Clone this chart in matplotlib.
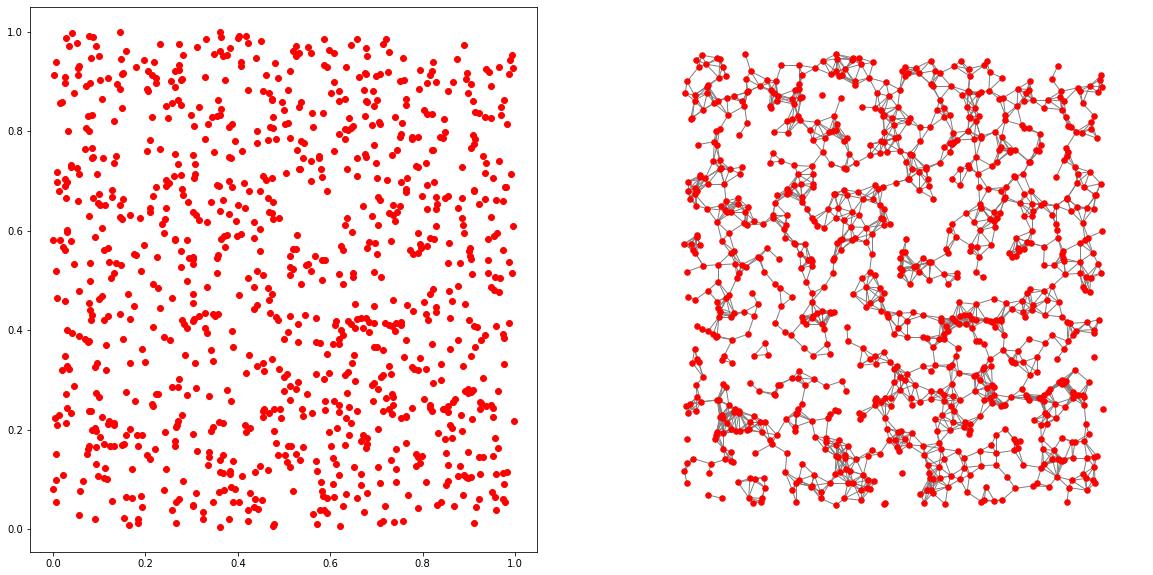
#Точки случайного геометрического графа: слева просто точки, справа с рёбрами
import numpy as np
import matplotlib
matplotlib.use("Agg")
import matplotlib.pyplot as plt
from matplotlib.collections import LineCollection

#Значения, по областям.
top_left = [(.042,.997),(.029,.987),(.079,.991),(.086,.989),(.146,.999),(.053,.977),(.035,.971),(.092,.971),(.159,.961),(.232,.975),(.273,.975),(.332,.985),(.362,.999),(.364,.989),(.400,.987),(.403,.991),(.417,.991),(.421,.977),(.451,.981),(.312,.969),(.384,.967),(.282,.953),(.349,.955),(.362,.961),(.369,.951),(.377,.953),(.100,.951),(.083,.947),(.148,.945),(.007,.939),(.198,.943),(.219,.939),(.406,.939),(.408,.931),(.440,.947),(.481,.937),(.057,.931),(.055,.927),(.180,.929),(.273,.933),(.265,.921),(.273,.923),(.206,.921),(.215,.913),(.224,.907),(.222,.897),(.003,.913),(.025,.909),(.025,.897),(.055,.913),(.152,.917),(.150,.915),(.460,.913),(.488,.907),(.514,.921),(.328,.909),(.373,.903),(.256,.901),(.280,.905),(.276,.903),(.263,.889),(.102,.903),(.120,.907),(.081,.897),(.072,.891),(.139,.895),(.144,.885),(.204,.885),(.206,.881),(.046,.877),(.423,.883),(.455,.881),(.468,.877),(.509,.883),(.358,.863),(.473,.863),(.475,.865),(.496,.859),(.105,.865),(.020,.859),(.016,.857),(.271,.863),(.258,.857),(.245,.851),(.276,.853),(.317,.849),(.364,.845),(.150,.847),(.499,.843),(.085,.834),(.076,.830),(.215,.828),(.248,.826),(.299,.832),(.345,.828),(.354,.830),(.362,.832),(.477,.828),(.131,.820),(.336,.814),(.306,.810),(.388,.814),(.380,.808),(.470,.808),(.477,.806),(.503,.814),(.509,.816),(.072,.806),(.079,.800),(.033,.800),(.442,.800),(.211,.782),(.330,.784),(.393,.780),(.466,.782),(.483,.784),(.514,.786),(.442,.776),(.070,.764),(.085,.766),(.204,.760),(.232,.764),(.349,.758),(.410,.760),(.263,.754),(.304,.752),(.382,.748),(.386,.746),(.087,.748),(.085,.746),(.109,.746),(.137,.750),(.133,.736),(.271,.734),(.308,.734),(.038,.732),(.038,.728),(.051,.726),(.009,.718),(.057,.714),(.096,.714),(.261,.710),(.278,.712),(.308,.714),(.306,.706),(.455,.710),(.462,.702),(.473,.706),(.505,.716),(.027,.704),(.031,.698),(.009,.698),(.027,.690),(.245,.702),(.250,.696),(.245,.690),(.222,.688),(.280,.684),(.356,.692),(.360,.690),(.382,.700),(.388,.688),(.414,.696),(.128,.682),(.014,.681),(.425,.681),(.449,.681)]

top_right = [(.587,.985),(.659,.985),(.721,.985),(.715,.975),(.644,.973),(.525,.971),(.553,.969),(.678,.967),(.520,.961),(.533,.957),(.527,.951),(.559,.957),(.598,.963),(.609,.957),(.728,.959),(.680,.951),(.890,.973),(.758,.947),(.875,.945),(.823,.939),(.994,.953),(.990,.943),(.587,.933),(.592,.929),(.635,.929),(.795,.923),(.821,.921),(.815,.913),(.966,.929),(.996,.927),(.937,.925),(.944,.919),(.986,.915),(.897,.917),(.895,.905),(.905,.895),(.726,.919),(.708,.915),(.700,.911),(.678,.915),(.676,.917),(.663,.909),(.609,.899),(.750,.901),(.760,.903),(.810,.897),(.830,.899),(.866,.899),(.949,.891),(.793,.885),(.856,.881),(.899,.877),(.674,.883),(.693,.881),(.618,.881),(.602,.877),(.765,.865),(.633,.865),(.620,.861),(.678,.861),(.680,.859),(.702,.863),(.977,.863),(.910,.861),(.537,.859),(.533,.849),(.695,.851),(.765,.853),(.970,.849),(.804,.843),(.810,.836),(.821,.836),(.914,.840),(.921,.838),(.561,.838),(.585,.838),(.970,.834),(.934,.828),(.947,.826),(.676,.830),(.741,.828),(.641,.826),(.847,.824),(.756,.816),(.706,.818),(.708,.814),(.691,.812),(.983,.814),(.563,.808),(.650,.810),(.644,.806),(.633,.804),(.639,.802),(.620,.794),(.633,.784),(.849,.798),(.754,.794),(.750,.788),(.776,.788),(.776,.784),(.789,.788),(.838,.788),(.845,.786),(.910,.792),(.914,.784),(.912,.774),(.905,.766),(.537,.780),(.544,.776),(.529,.762),(.695,.772),(.745,.762),(.734,.752),(.821,.762),(.823,.762),(.609,.760),(.576,.750),(.576,.746),(.542,.746),(.559,.740),(.657,.746),(.676,.754),(.678,.748),(.931,.750),(.938,.736),(.966,.740),(.700,.736),(.808,.736),(.786,.730),(.789,.728),(.886,.728),(.533,.724),(.535,.724),(.581,.724),(.637,.724),(.936,.716),(.992,.714),(.657,.710),(.583,.708),(.702,.706),(.767,.706),(.953,.706),(.559,.700),(.724,.702),(.754,.698),(.825,.698),(.810,.692),(.765,.684),(.594,.681),(.912,.682),(.979,.688),(.981,.688)]

mid_left = [(.100,.675),(.128,.669),(.087,.665),(.029,.665),(.217,.671),(.282,.673),(.152,.663),(.055,.659),(.098,.655),(.102,.651),(.113,.651),(.146,.651),(.293,.657),(.343,.657),(.367,.661),(.466,.667),(.477,.657),(.401,.651),(.416,.645),(.245,.645),(.211,.645),(.211,.637),(.362,.639),(.380,.633),(.304,.637),(.310,.631),(.317,.621),(.334,.617),(.079,.629),(.167,.631),(.144,.627),(.150,.623),(.189,.625),(.243,.623),(.237,.613),(.397,.619),(.434,.617),(.468,.637),(.473,.635),(.477,.623),(.490,.625),(.107,.605),(.447,.603),(.031,.601),(.031,.597),(.241,.595),(.377,.591),(.371,.589),(.364,.583),(.408,.593),(.399,.589),(.090,.587),(.434,.585),(.001,.581),(.016,.581),(.038,.579),(.263,.583),(.265,.581),(.289,.581),(.198,.571),(.373,.567),(.022,.567),(.027,.561),(.120,.565),(.111,.561),(.276,.559),(.447,.559),(.176,.553),(.180,.551),(.226,.547),(.358,.551),(.354,.545),(.295,.545),(.302,.547),(.304,.543),(.514,.549),(.122,.537),(.137,.535),(.148,.531),(.081,.535),(.046,.533),(.304,.533),(.278,.528),(.514,.528),(.007,.520),(.191,.520),(.131,.516),(.126,.506),(.442,.520),(.455,.512),(.354,.516),(.514,.512),(.423,.506),(.081,.498),(.291,.498),(.217,.492),(.228,.484),(.334,.486),(.434,.486),(.466,.484),(.057,.478),(.163,.472),(.304,.472),(.403,.470),(.475,.472),(.009,.464),(.027,.458),(.107,.468),(.100,.462),(.258,.464),(.468,.460),(.079,.454),(.304,.454),(.176,.448),(.232,.444),(.442,.450),(.434,.442),(.081,.440),(.085,.430),(.144,.432),(.120,.428),(.111,.420),(.083,.420),(.167,.422),(.328,.434),(.317,.428),(.306,.422),(.304,.418),(.347,.432),(.351,.428),(.358,.432),(.470,.434),(.483,.426),(.486,.420),(.512,.428),(.280,.420),(.284,.412),(.291,.404),(.217,.406),(.031,.400),(.042,.394),(.057,.388),(.070,.382),(.076,.376),(.079,.378),(.328,.404),(.334,.394),(.388,.398),(.509,.396),(.241,.386),(.254,.380),(.152,.382),(.499,.382),(.115,.370),(.390,.366),(.193,.362),(.341,.360),(.025,.349),(.286,.351),(.425,.351),(.475,.343)]

mid_right = [(.763,.679),(.704,.669),(.708,.661),(.799,.671),(.828,.669),(.849,.667),(.856,.671),(.886,.665),(.912,.681),(.936,.663),(.959,.661),(.975,.659),(.921,.653),(.672,.649),(.737,.651),(.752,.649),(.832,.653),(.877,.645),(.810,.643),(.828,.643),(.728,.635),(.745,.637),(.737,.631),(.691,.629),(.637,.625),(.741,.619),(.886,.625),(.949,.627),(.631,.611),(.704,.611),(.828,.609),(.888,.611),(.996,.609),(.648,.597),(.529,.591),(.791,.595),(.890,.595),(.962,.595),(.955,.589),(.942,.583),(.817,.585),(.825,.583),(.858,.575),(.732,.579),(.683,.577),(.698,.575),(.680,.565),(.624,.569),(.628,.561),(.795,.573),(.810,.569),(.797,.565),(.773,.561),(.780,.553),(.791,.555),(.520,.563),(.525,.563),(.568,.549),(.702,.553),(.903,.565),(.901,.559),(.903,.549),(.905,.543),(.973,.561),(.583,.541),(.589,.541),(.856,.535),(.882,.535),(.942,.541),(.986,.537),(.553,.533),(.548,.531),(.520,.524),(.559,.520),(.618,.514),(.650,.516),(.650,.508),(.695,.518),(.711,.508),(.908,.514),(.942,.516),(.957,.508),(.968,.506),(.994,.516),(.583,.502),(.537,.492),(.628,.492),(.877,.488),(.823,.482),(.817,.472),(.858,.478),(.949,.486),(.955,.480),(.966,.476),(.737,.460),(.864,.458),(.804,.456),(.654,.452),(.695,.448),(.767,.450),(.892,.452),(.830,.446),(.780,.438),(.828,.436),(.808,.432),(.812,.420),(.546,.430),(.570,.424),(.860,.424),(.901,.420),(.988,.414),(.959,.408),(.912,.408),(.918,.406),(.531,.412),(.613,.418),(.611,.410),(.639,.418),(.646,.412),(.654,.404),(.657,.422),(.667,.424),(.678,.424),(.685,.416),(.695,.414),(.672,.404),(.685,.396),(.719,.414),(.728,.410),(.743,.414),(.754,.416),(.754,.410),(.734,.408),(.741,.398),(.624,.400),(.628,.390),(.620,.382),(.607,.372),(.620,.372),(.531,.376),(.570,.376),(.579,.374),(.975,.392),(.934,.390),(.977,.384),(.927,.380),(.877,.380),(.763,.380),(.821,.372),(.914,.366),(.695,.366),(.702,.366),(.715,.360),(.592,.353),(.652,.351),(.860,.362),(.905,.349),(.760,.347),(.795,.345)]

low_left = [(.096,.335),(.090,.325),(.167,.335),(.200,.337),(.115,.319),(.031,.327),(.020,.319),(.035,.321),(.308,.335),(.347,.339),(.442,.327),(.455,.333),(.457,.317),(.418,.313),(.490,.321),(.501,.305),(.507,.311),(.273,.301),(.046,.287),(.258,.285),(.271,.285),(.310,.283),(.514,.287),(.029,.271),(.094,.273),(.100,.265),(.157,.275),(.178,.257),(.224,.271),(.228,.271),(.289,.269),(.338,.267),(.377,.279),(.386,.257),(.501,.277),(.514,.259),(.215,.251),(.217,.247),(.031,.243),(.040,.233),(.079,.237),(.083,.237),(.457,.241),(.455,.237),(.468,.233),(.479,.241),(.492,.241),(.014,.229),(.005,.223),(.107,.225),(.280,.229),(.455,.225),(.494,.223),(.029,.213),(.009,.209),(.271,.217),(.269,.209),(.267,.205),(.122,.217),(.120,.211),(.131,.213),(.131,.209),(.360,.215),(.367,.213),(.347,.205),(.343,.197),(.416,.209),(.427,.203),(.418,.195),(.090,.203),(.085,.199),(.094,.197),(.167,.201),(.243,.195),(.479,.197),(.102,.186),(.157,.189),(.182,.189),(.193,.189),(.304,.191),(.265,.178),(.483,.174),(.111,.172),(.124,.168),(.133,.168),(.150,.170),(.154,.172),(.185,.166),(.265,.168),(.079,.166),(.076,.160),(.094,.164),(.509,.166),(.221,.160),(.312,.156),(.007,.150),(.074,.150),(.204,.148),(.338,.154),(.338,.144),(.369,.148),(.362,.138),(.488,.148),(.503,.148),(.209,.140),(.390,.136),(.507,.134),(.094,.130),(.336,.128),(.113,.122),(.170,.120),(.245,.120),(.447,.126),(.438,.114),(.466,.118),(.512,.124),(.022,.108),(.362,.114),(.367,.112),(.384,.116),(.384,.110),(.410,.106),(.007,.098),(.098,.106),(.111,.102),(.117,.100),(.064,.096),(.282,.096),(.001,.080),(.059,.076),(.241,.078),(.360,.074),(.371,.078),(.386,.084),(.395,.080),(.427,.072),(.310,.072),(.157,.064),(.170,.062),(.191,.066),(.273,.060),(.267,.054),(.438,.060),(.453,.058),(.007,.054),(.128,.056),(.347,.054),(.390,.054),(.403,.054),(.193,.044),(.304,.048),(.302,.046),(.436,.044),(.444,.040),(.258,.038),(.421,.038),(.325,.034),(.057,.028),(.090,.020),(.154,.022),(.325,.020),(.185,.020),(.183,.013),(.165,.009),(.267,.013),(.382,.020),(.421,.016),(.362,.005),(.479,.011),(.477,.007)]

low_right = [(.648,.333),(.728,.327),(.778,.325),(.782,.321),(.789,.319),(.808,.321),(.840,.331),(.888,.327),(.977,.331),(.570,.311),(.598,.313),(.639,.315),(.631,.309),(.587,.301),(.715,.309),(.711,.305),(.732,.311),(.654,.297),(.695,.293),(.691,.289),(.704,.281),(.823,.293),(.840,.299),(.931,.303),(.531,.295),(.527,.281),(.550,.271),(.637,.273),(.892,.277),(.899,.281),(.899,.273),(.905,.275),(.910,.279),(.964,.277),(.734,.271),(.737,.265),(.721,.263),(.804,.261),(.693,.257),(.589,.257),(.609,.257),(.618,.249),(.871,.261),(.866,.255),(.815,.249),(.856,.247),(.845,.241),(.849,.241),(.856,.235),(.925,.255),(.927,.253),(.938,.247),(.949,.249),(.953,.243),(.925,.241),(.737,.249),(.728,.241),(.715,.237),(.734,.231),(.778,.243),(.540,.241),(.589,.239),(.618,.235),(.641,.245),(.657,.237),(.817,.243),(.821,.237),(.561,.233),(.542,.227),(.884,.229),(.953,.225),(.635,.223),(.644,.213),(.754,.223),(.763,.225),(.765,.227),(.908,.221),(.998,.217),(.860,.209),(.864,.203),(.615,.203),(.598,.195),(.704,.201),(.886,.197),(.834,.193),(.641,.189),(.670,.189),(.680,.183),(.667,.177),(.680,.171),(.678,.163),(.957,.184),(.849,.181),(.864,.183),(.765,.174),(.602,.168),(.633,.170),(.516,.168),(.542,.164),(.743,.160),(.964,.162),(.851,.152),(.899,.154),(.786,.150),(.799,.146),(.791,.144),(.525,.150),(.607,.142),(.570,.136),(.535,.138),(.732,.138),(.923,.144),(.931,.144),(.953,.146),(.613,.130),(.795,.132),(.786,.126),(.854,.128),(.880,.126),(.652,.124),(.704,.124),(.743,.120),(.572,.116),(.620,.108),(.667,.110),(.877,.106),(.890,.108),(.895,.104),(.899,.102),(.905,.104),(.925,.110),(.959,.110),(.975,.112),(.983,.114),(.581,.094),(.607,.090),(.667,.088),(.708,.092),(.743,.094),(.808,.094),(.856,.096),(.851,.088),(.977,.090),(.520,.076),(.583,.076),(.585,.066),(.592,.062),(.609,.064),(.635,.070),(.657,.062),(.680,.072),(.769,.068),(.888,.068),(.951,.074),(.957,.064),(.923,.060),(.973,.060),(.979,.054),(.628,.046),(.719,.046),(.789,.042),(.832,.048),(.840,.054),(.869,.046),(.916,.044),(.959,.038),(.579,.038),(.587,.038),(.592,.032),(.563,.030),(.674,.034),(.572,.011),(.622,.007),(.708,.013),(.715,.017),(.739,.015),(.758,.017),(.912,.013)]

#Радиус, в пределах которого точки соединены ребром.
radius = 0.044

pts = np.array(top_left + top_right + mid_left + mid_right + low_left + low_right)
x = pts[:, 0]
y = pts[:, 1]

#Рёбра: все пары точек ближе радиуса.
edges = []
for i in range(len(pts)):
    for j in range(i + 1, len(pts)):
        if np.hypot(x[i] - x[j], y[i] - y[j]) < radius:
            edges.append([pts[i], pts[j]])

W, H = 1153, 575
fig = plt.figure(figsize=(W / 72, H / 72), dpi=72)

#Левый график.
ax1 = fig.add_axes([30 / W, 1 - 552 / H, 507 / W, 545 / H])
ax1.scatter(x, y, color="red", s=36, zorder=2)
ax1.set_xlim((30 - 53) / 462, (537 - 53) / 462)
ax1.set_ylim((529 - 552) / 497, (529 - 7) / 497)
ax1.set_xticks([0, 0.2, 0.4, 0.6, 0.8, 1.0])
ax1.set_yticks([0, 0.2, 0.4, 0.6, 0.8, 1.0])

#Правый график, без осей.
ax2 = fig.add_axes([650 / W, 1 - 552 / H, 490 / W, 545 / H])
ax2.add_collection(LineCollection(edges, colors="gray", linewidths=1, zorder=1))
ax2.scatter(x, y, color="red", s=30, zorder=2)
ax2.set_xlim((650 - 684) / 420, (1140 - 684) / 420)
ax2.set_ylim((507.5 - 552) / 453.7, (507.5 - 7) / 453.7)
ax2.axis("off")

fig.savefig("out.png", dpi=72)
